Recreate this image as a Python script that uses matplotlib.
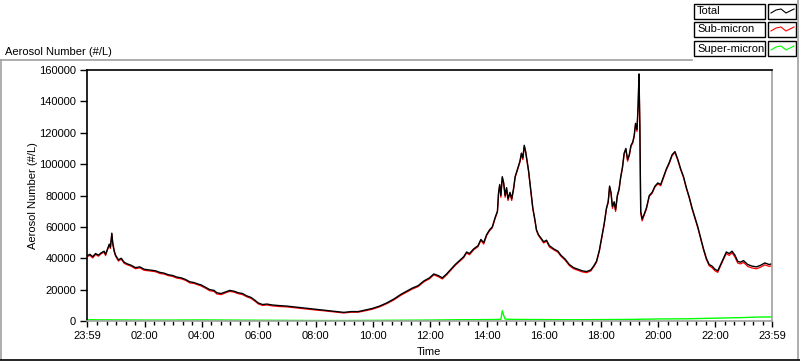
import matplotlib
matplotlib.use("Agg")
import matplotlib.pyplot as plt
from matplotlib.lines import Line2D
from matplotlib.patches import Rectangle
from matplotlib.ticker import FixedLocator

# hours since 23:59 (start of record) and concentrations in thousands of #/L
hours = [0.00, 0.10, 0.20, 0.30, 0.40, 0.50, 0.60, 0.65, 0.70, 0.78, 0.82, 0.87, 0.90, 0.95,
         1.00, 1.10, 1.20, 1.30, 1.40, 1.55, 1.70, 1.85, 2.00, 2.20, 2.40, 2.55, 2.70, 2.85,
         3.00, 3.15, 3.30, 3.45, 3.60, 3.75, 3.90, 4.00, 4.15, 4.30, 4.45, 4.55, 4.70, 4.85,
         5.00, 5.15, 5.30, 5.45, 5.60, 5.75, 5.90, 6.00, 6.15, 6.30, 6.50, 6.75, 7.00, 7.25,
         7.50, 7.75, 8.00, 8.25, 8.50, 8.75, 9.00, 9.25, 9.50, 9.75, 10.00, 10.25, 10.50, 10.75,
         11.00, 11.20, 11.40, 11.60, 11.80, 12.00, 12.15, 12.30, 12.45, 12.60, 12.75, 12.90,
         13.05, 13.20, 13.30, 13.40, 13.55, 13.70, 13.80, 13.90, 14.00, 14.10, 14.20, 14.30,
         14.38, 14.42, 14.46, 14.50, 14.55, 14.60, 14.65, 14.70, 14.75, 14.82, 14.88, 14.95,
         15.00, 15.07, 15.12, 15.17, 15.22, 15.27, 15.32, 15.37, 15.42, 15.47, 15.52, 15.57,
         15.62, 15.68, 15.75, 15.82, 15.90, 16.00, 16.10, 16.20, 16.35, 16.50, 16.60, 16.75,
         16.90, 17.05, 17.20, 17.35, 17.50, 17.65, 17.75, 17.85, 17.95, 18.05, 18.12, 18.20,
         18.26, 18.31, 18.36, 18.41, 18.47, 18.52, 18.58, 18.64, 18.70, 18.76, 18.82, 18.88,
         18.94, 19.00, 19.06, 19.12, 19.17, 19.22, 19.27, 19.31, 19.34, 19.37, 19.40, 19.45,
         19.52, 19.60, 19.70, 19.80, 19.90, 20.00, 20.10, 20.20, 20.30, 20.40, 20.50, 20.60,
         20.70, 20.80, 20.90, 21.00, 21.10, 21.20, 21.30, 21.40, 21.50, 21.60, 21.70, 21.80,
         21.90, 22.00, 22.10, 22.20, 22.30, 22.40, 22.50, 22.60, 22.70, 22.80, 22.90, 23.00,
         23.15, 23.30, 23.45, 23.60, 23.75, 23.90, 24.00]

total = [41.5, 42.5, 41.0, 43.0, 42.0, 43.5, 44.5, 42.5, 45.0, 49.0, 47.0, 56.0, 50.0, 45.0,
         42.0, 39.0, 40.0, 37.5, 36.5, 35.5, 34.0, 34.5, 33.0, 32.5, 32.0, 31.0, 30.5, 29.5,
         29.0, 28.0, 27.5, 26.5, 25.0, 24.5, 23.5, 23.0, 21.5, 20.0, 19.5, 18.0, 17.5, 18.5,
         19.5, 19.0, 18.0, 17.5, 16.0, 15.0, 13.0, 11.5, 10.5, 10.8, 10.2, 9.8, 9.5, 9.0,
         8.5, 8.0, 7.5, 7.0, 6.5, 6.0, 5.5, 6.0, 6.0, 7.0, 8.0, 9.5, 11.5, 14.0,
         17.0, 19.0, 21.0, 22.5, 25.5, 27.5, 30.0, 29.0, 27.5, 30.0, 33.0, 36.0,
         38.5, 41.0, 44.0, 43.0, 46.0, 48.0, 52.0, 50.0, 55.0, 58.0, 60.0, 66.0,
         70.0, 82.0, 87.0, 80.0, 92.0, 88.0, 80.0, 85.0, 78.0, 82.0, 78.0, 85.0,
         92.0, 96.0, 99.0, 102.0, 107.0, 104.0, 112.0, 108.0, 102.0, 96.0, 88.0, 80.0,
         72.0, 66.0, 58.0, 55.0, 53.0, 50.5, 51.5, 48.0, 46.0, 44.5, 42.0, 39.5,
         36.0, 34.0, 33.0, 32.0, 31.5, 32.5, 35.0, 38.0, 45.0, 55.0, 62.0, 72.0,
         76.0, 86.0, 82.0, 73.0, 76.0, 71.0, 80.0, 84.0, 92.0, 98.0, 107.0, 110.0,
         103.0, 106.0, 112.0, 114.0, 118.0, 126.0, 122.0, 138.0, 157.5, 125.0, 70.0, 65.0,
         68.0, 72.0, 80.0, 82.0, 86.0, 88.0, 87.0, 92.0, 97.0, 101.0, 106.0, 108.0,
         103.0, 97.0, 92.0, 85.0, 79.0, 72.0, 66.0, 60.0, 53.0, 46.0, 40.0, 36.0,
         35.0, 33.0, 32.0, 36.0, 40.0, 44.0, 43.0, 44.5, 42.0, 38.0, 37.5, 38.5,
         36.0, 35.0, 34.5, 35.5, 37.0, 36.0, 36.5]

sub_micron = [40.9, 41.9, 40.2, 42.4, 41.3, 42.9, 43.9, 41.7, 44.4, 48.4, 46.2, 55.4, 49.4, 44.3,
              41.4, 38.2, 39.4, 36.8, 35.9, 34.9, 33.3, 33.9, 32.3, 31.9, 31.4, 30.3, 29.9, 28.9,
              28.4, 27.3, 26.9, 25.9, 24.3, 23.9, 22.9, 22.3, 20.9, 19.3, 18.9, 17.2, 16.8, 17.9,
              18.9, 18.4, 17.4, 16.8, 15.4, 14.4, 12.4, 10.9, 9.9, 10.2, 9.6, 9.2, 9.0, 8.5,
              8.0, 7.5, 7.0, 6.6, 6.1, 5.6, 5.1, 5.6, 5.6, 6.5, 7.5, 9.0, 11.0, 13.4,
              16.4, 18.4, 20.4, 21.9, 24.9, 26.9, 29.4, 28.3, 26.8, 29.4, 32.4, 35.4,
              37.9, 40.4, 43.4, 42.2, 45.4, 47.4, 51.4, 49.0, 54.4, 57.4, 59.4, 65.4,
              69.4, 81.2, 86.4, 78.8, 91.4, 87.2, 78.8, 84.4, 76.8, 81.4, 76.8, 84.4,
              91.4, 95.4, 98.4, 101.4, 106.4, 102.8, 111.4, 107.2, 101.4, 95.4, 87.4, 79.4,
              71.4, 65.4, 57.4, 54.4, 52.4, 49.7, 50.9, 47.2, 45.4, 43.8, 41.4, 38.8,
              35.3, 33.3, 32.3, 31.3, 30.8, 31.9, 34.4, 37.4, 44.4, 54.4, 61.4, 71.4,
              75.4, 85.4, 80.8, 71.8, 75.4, 69.8, 79.4, 83.4, 91.4, 97.4, 106.4, 109.4,
              101.8, 105.4, 111.4, 113.4, 117.4, 125.4, 120.8, 137.4, 156.9, 124.4, 68.8, 63.8,
              67.4, 71.4, 79.4, 81.4, 85.4, 87.4, 86.2, 91.4, 96.4, 100.4, 105.4, 107.4,
              102.4, 96.4, 91.4, 84.4, 78.4, 71.4, 65.4, 59.4, 52.4, 45.4, 39.2, 35.2,
              34.0, 32.0, 31.0, 35.2, 39.2, 43.0, 41.8, 43.5, 40.8, 36.9, 36.4, 37.4,
              34.8, 33.8, 33.3, 34.3, 35.8, 34.8, 35.3]

super_hours = [0, 1, 2, 3, 4, 5, 6, 7, 8, 9, 10, 11, 12, 13, 14, 14.5, 14.55, 14.6, 14.65,
               15, 16, 17, 18, 19, 20, 21, 22, 23, 23.5, 24]
super_micron = [0.8, 0.7, 0.6, 0.6, 0.7, 0.6, 0.5, 0.4, 0.3, 0.3, 0.4, 0.5, 0.6, 0.8, 0.9,
                1.0, 6.5, 3.5, 1.2, 1.0, 0.9, 0.8, 0.9, 1.0, 1.3, 1.4, 1.8, 2.2, 2.5, 2.6]

tick_labels = ["23:59", "02:00", "04:00", "06:00", "08:00", "10:00", "12:00",
               "14:00", "16:00", "18:00", "20:00", "22:00", "23:59"]
y_ticks = [0, 20000, 40000, 60000, 80000, 100000, 120000, 140000, 160000]

plt.rcParams['font.family'] = ['Liberation Sans', 'DejaVu Sans']

W, H = 800, 361
fig = plt.figure(figsize=(W / 100, H / 100), dpi=100)


def fx(x):
    return x / W


def fy(y):
    return 1 - y / H


ax = fig.add_axes([fx(87), fy(321), fx(772) - fx(87), fy(70) - fy(321)])

ax.plot(hours, [v * 1000 for v in sub_micron], color='#ff0000', lw=0.9)
ax.plot(hours, [v * 1000 for v in total], color='black', lw=1.0)
ax.plot(super_hours, [v * 1000 for v in super_micron], color='#00ff00', lw=1.0)

ax.set_xlim(0, 24)
ax.set_ylim(0, 160000)

# major ticks on even clock hours, ends at 23:59
off = 1 / 60
major = [0] + [off + 2 * k for k in range(1, 12)] + [24]
minor = [off + m / 3 for m in range(1, 72) if m % 6 != 0]
ax.xaxis.set_major_locator(FixedLocator(major))
ax.xaxis.set_minor_locator(FixedLocator(minor))
ax.set_xticklabels(tick_labels)
ax.set_yticks(y_ticks)
ax.set_yticklabels([str(v) for v in y_ticks])

ax.tick_params(axis='y', which='major', length=5, width=1, pad=3, labelsize=8)
ax.tick_params(axis='x', which='major', length=4, width=1, pad=3, labelsize=8)
ax.tick_params(axis='x', which='minor', length=3, width=1)

for s in ['left', 'top']:
    ax.spines[s].set_color('black')
for s in ['right', 'bottom']:
    ax.spines[s].set_color('#a0a0a0')
for s in ax.spines.values():
    s.set_linewidth(1.2)

fig.text(fx(33), fy(196), 'Aerosol Number (#/L)', rotation=90, ha='center', va='center', fontsize=8)
fig.text(fx(429), fy(352), 'Time', ha='center', va='center', fontsize=8)
fig.text(fx(5), fy(52), 'Aerosol Number (#/L)', ha='left', va='center', fontsize=8)

# outer frame
grey = '#a0a0a0'
fig.add_artist(Line2D([fx(1), fx(1)], [fy(60), fy(359)], color=grey, lw=1.2))
fig.add_artist(Line2D([fx(1), fx(692)], [fy(60), fy(60)], color=grey, lw=1.2))
fig.add_artist(Line2D([fx(798), fx(798)], [fy(0), fy(359)], color=grey, lw=1.2))
fig.add_artist(Line2D([fx(0), fx(800)], [fy(359.5), fy(359.5)], color='black', lw=1.2))

# legend boxes
names = ['Total', 'Sub-micron', 'Super-micron']
colors = ['black', '#ff0000', '#00ff00']
rows = [4, 22, 41]
for name, c, y0 in zip(names, colors, rows):
    fig.add_artist(Rectangle((fx(694), fy(y0 + 15)), fx(765) - fx(694), fy(y0) - fy(y0 + 15),
                             fill=False, ec='black', lw=1.0))
    fig.text(fx(697), fy(y0 + 7.5), name, ha='left', va='center', fontsize=8)
    fig.add_artist(Rectangle((fx(768), fy(y0 + 15)), fx(796) - fx(768), fy(y0) - fy(y0 + 15),
                             fill=False, ec='black', lw=1.0))
    zx = [771, 776, 781, 786, 790, 794]
    zy = [9, 6, 5, 9, 7, 5]
    fig.add_artist(Line2D([fx(x) for x in zx], [fy(y0 + d) for d in zy], color=c, lw=0.8))

fig.savefig('out.png', dpi=100)
